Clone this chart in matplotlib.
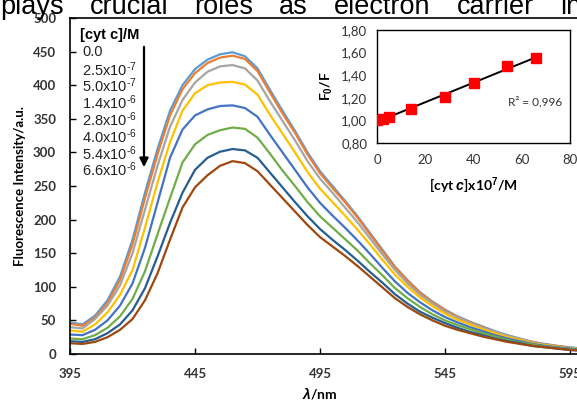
import numpy as np
import matplotlib
matplotlib.use('Agg')
import matplotlib.pyplot as plt
from matplotlib.ticker import FuncFormatter

plt.rcParams['mathtext.fontset'] = 'custom'
plt.rcParams['mathtext.rm'] = 'Liberation Sans'
plt.rcParams['mathtext.it'] = 'Liberation Sans:italic:bold'
plt.rcParams['mathtext.bf'] = 'Liberation Sans:bold'

# emission spectra, one list per cyt c concentration
wl = np.arange(395, 601, 5)
conc_labels = ['0.0', '2.5x10$^{‐7}$', '5.0x10$^{‐7}$', '1.4x10$^{‐6}$',
               '2.8x10$^{‐6}$', '4.0x10$^{‐6}$', '5.4x10$^{‐6}$', '6.6x10$^{‐6}$']
colors = ['#5B9BD5', '#ED7D31', '#A5A5A5', '#FFC000',
          '#4472C4', '#70AD47', '#255E91', '#9E480E']

s_00 = [47, 44, 57, 80, 115, 170, 240, 305, 362, 400, 424, 438, 446, 449, 443, 425, 393, 362, 332, 300, 272,
        250, 228, 205, 180, 155, 130, 110, 92, 78, 66, 56, 48, 41, 34, 28, 23, 18, 15, 12, 10, 8]
s_25 = [45, 42, 54, 76, 110, 163, 232, 297, 355, 394, 418, 433, 441, 444, 439, 421, 389, 358, 329, 297, 269,
        247, 226, 203, 178, 153, 129, 109, 91, 77, 65, 55, 47, 40, 33, 27, 22, 18, 14, 12, 9, 8]
s_50 = [40, 38, 52, 72, 102, 150, 215, 280, 338, 378, 404, 420, 428, 430, 425, 407, 376, 347, 318, 287, 261,
        240, 218, 196, 172, 148, 125, 105, 88, 75, 63, 54, 46, 39, 33, 27, 22, 17, 14, 11, 9, 7]
s_14 = [35, 33, 44, 62, 88, 125, 188, 255, 315, 362, 388, 400, 404, 405, 401, 386, 356, 328, 300, 271, 246,
        226, 206, 185, 163, 140, 118, 100, 84, 71, 60, 51, 44, 37, 31, 25, 21, 16, 13, 11, 8, 7]
s_28 = [29, 28, 36, 50, 72, 105, 158, 225, 292, 334, 355, 364, 369, 370, 366, 353, 326, 300, 274, 248, 225,
        206, 188, 169, 149, 128, 108, 91, 77, 65, 55, 47, 40, 34, 28, 23, 19, 15, 12, 10, 8, 6]
s_40 = [23, 22, 28, 39, 56, 82, 123, 178, 232, 285, 312, 326, 333, 337, 335, 322, 298, 273, 250, 226, 205,
        188, 171, 154, 135, 117, 98, 83, 70, 59, 50, 43, 37, 31, 26, 21, 17, 14, 11, 9, 7, 6]
s_54 = [19, 18, 22, 31, 44, 65, 98, 145, 195, 240, 274, 292, 301, 305, 303, 292, 270, 248, 226, 205, 186,
        170, 155, 139, 122, 106, 89, 75, 63, 54, 46, 39, 33, 28, 23, 19, 16, 12, 10, 8, 6, 5]
s_66 = [16, 15, 18, 25, 36, 52, 80, 120, 170, 218, 248, 266, 280, 287, 284, 272, 252, 232, 212, 192, 174,
        160, 146, 131, 115, 99, 83, 70, 59, 50, 42, 36, 31, 26, 22, 18, 15, 12, 10, 8, 6, 5]
spectra = [s_00, s_25, s_50, s_14, s_28, s_40, s_54, s_66]

# Stern-Volmer inset
cytc = [0, 2.5, 5.0, 14, 28, 40, 54, 66]
f0_f = [1.00, 1.013, 1.03, 1.105, 1.205, 1.327, 1.48, 1.555]

W, H = 577, 403
fig = plt.figure(figsize=(W / 100, H / 100), dpi=100)

ax = fig.add_axes([70 / W, 1 - 354 / H, 507 / W, 336 / H])
for s, c in zip(spectra, colors):
    ax.plot(wl, s, color=c, lw=1.6)
ax.set_xlim(395, 597.8)
ax.set_ylim(0, 500)
ax.set_xticks([395, 445, 495, 545, 595])
ax.set_yticks(range(0, 501, 50))
ax.tick_params(direction='in', length=4, width=1, colors='black')
ax.tick_params(axis='y', pad=10)
ax.tick_params(axis='x', pad=10)
for lab in ax.get_xticklabels() + ax.get_yticklabels():
    lab.set_family('Lato')
    lab.set_fontweight('bold')
    lab.set_fontsize(9.5)
    lab.set_color('#333333')
for sp in ax.spines.values():
    sp.set_linewidth(1.2)
ax.spines['right'].set_visible(False)
ax.set_ylabel('Fluorescence Intensity/a.u.', family='Lato', fontweight='bold', fontsize=9.5, labelpad=5)
fig.text(320 / W, 1 - 393 / H, r'$\mathit{λ}$/nm', family='Lato', fontweight='bold', fontsize=10,
         ha='center', va='center')

# legend block
fig.text(80 / W, 1 - 35 / H, '[cyt c]/M', family='Liberation Sans', fontweight='bold', fontsize=10.5,
         va='center')
for i, lab in enumerate(conc_labels):
    fig.text(82 / W, 1 - (52.5 + i * 16.8) / H, lab, family='Liberation Sans', fontsize=10.5,
             va='center', color='#222222')
ax.annotate('', xy=(144 / W, 1 - 170 / H), xytext=(144 / W, 1 - 44 / H),
            xycoords='figure fraction', textcoords='figure fraction',
            arrowprops=dict(arrowstyle='-|>', color='black', lw=1.6, mutation_scale=13))

# inset
ins = fig.add_axes([377 / W, 1 - 143 / H, 193 / W, 113 / H])
ins.plot(cytc, f0_f, 's', color='#FF0000', ms=7, zorder=3)
k, b = np.polyfit(cytc, f0_f, 1)
xf = np.array([0, 66])
ins.plot(xf, k * xf + b, color='black', lw=1.4, zorder=2)
ins.set_xlim(0, 80)
ins.set_ylim(0.8, 1.8)
ins.set_xticks(range(0, 81, 20))
ins.set_yticks(np.arange(0.8, 1.81, 0.2))
ins.yaxis.set_major_formatter(FuncFormatter(lambda v, p: f'{v:.2f}'.replace('.', ',')))
ins.tick_params(length=0, labelsize=9.5, colors='#333333')
ins.tick_params(axis='y', pad=7)
ins.tick_params(axis='x', pad=8)
for lab in ins.get_xticklabels() + ins.get_yticklabels():
    lab.set_family('Lato')
for sp in ins.spines.values():
    sp.set_linewidth(1.0)
ins.text(0.96, 0.37, 'R² = 0,996', transform=ins.transAxes, ha='right', va='center',
         family='Lato', fontsize=8.5, color='#333333')
ins.set_ylabel(r'F$_\mathbf{0}$/F', family='Lato', fontweight='bold', fontsize=10, labelpad=4)
ins.set_xlabel(r'[cyt $c$]x10$^\mathbf{7}$/M', family='Lato', fontweight='bold', fontsize=10, labelpad=7)

# cropped, justified line of body text above the figure
words = ['plays', 'crucial', 'roles', 'as', 'electron', 'carrier', 'in']
renderer = fig.canvas.get_renderer()
x = 0.0
gap = 26
for wd in words:
    t = fig.text(x / W, 1 - 14 / H, wd, family='Liberation Sans', fontsize=19.5, va='baseline', ha='left')
    x = t.get_window_extent(renderer).x1 + gap

fig.savefig('out.png', dpi=100)
